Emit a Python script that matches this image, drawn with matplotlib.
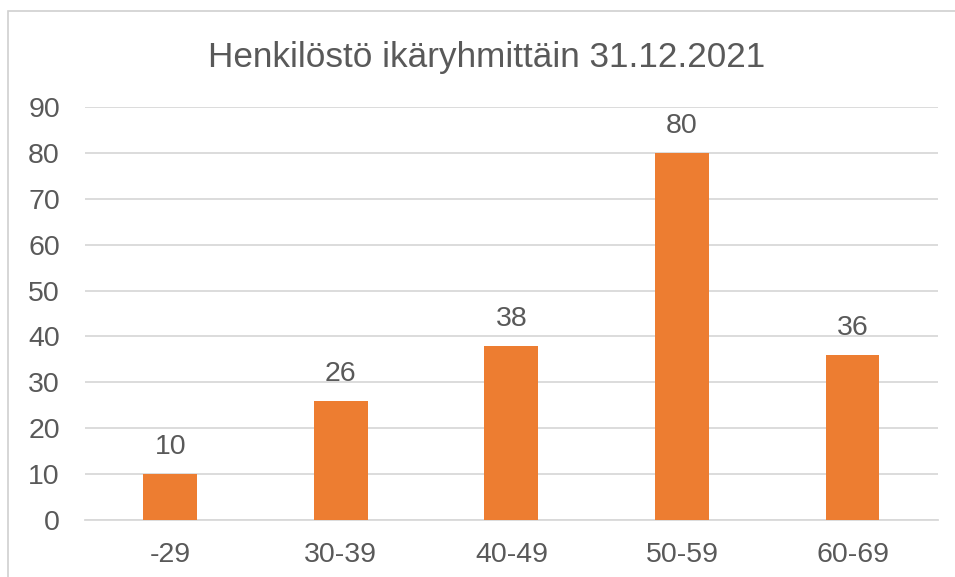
import matplotlib.pyplot as plt
from matplotlib.patches import Rectangle

plt.rcParams["font.family"] = ["Liberation Sans", "DejaVu Sans"]

categories = ["-29", "30-39", "40-49", "50-59", "60-69"]
values = [10, 26, 38, 80, 36]
title = "Henkilöstö ikäryhmittäin 31.12.2021"

text_color = "#595959"
bar_color = "#ED7D31"
grid_color = "#D9D9D9"

fig = plt.figure(figsize=(9.55, 5.77), dpi=100)
ax = fig.add_axes([0.089, 0.0988, 0.893, 0.7158])

# light frame around the chart area, as in the office export
fig.patches.append(Rectangle((8 / 955, -0.1), 2, 1 - 11 / 577 + 0.1,
                             transform=fig.transFigure, fill=False,
                             edgecolor="#D0D0D0", linewidth=1.2))

x = range(len(categories))
bars = ax.bar(x, values, width=0.316, color=bar_color, zorder=3)
for rect, v in zip(bars, values):
    ax.annotate(str(v), (rect.get_x() + rect.get_width() / 2, v),
                xytext=(0, 10), textcoords="offset points",
                ha="center", va="bottom", fontsize=20.5, color=text_color)

ax.set_xlim(-0.5, len(categories) - 0.5)
ax.set_ylim(0, 90)
ax.set_yticks(range(0, 91, 10))
ax.set_xticks(list(x))
ax.set_xticklabels(categories)
ax.tick_params(axis="both", length=0, labelsize=20.5, labelcolor=text_color)
ax.tick_params(axis="y", pad=18)
ax.tick_params(axis="x", pad=16)
ax.yaxis.grid(True, color=grid_color, linewidth=1.3, zorder=0)
for side in ["top", "right", "left"]:
    ax.spines[side].set_visible(False)
ax.spines["bottom"].set_color(grid_color)
ax.spines["bottom"].set_linewidth(1.3)

fig.text(0.51, 1 - 58 / 577, title, ha="center", va="center",
         fontsize=25.3, color=text_color)

fig.savefig("out.png", dpi=100)
